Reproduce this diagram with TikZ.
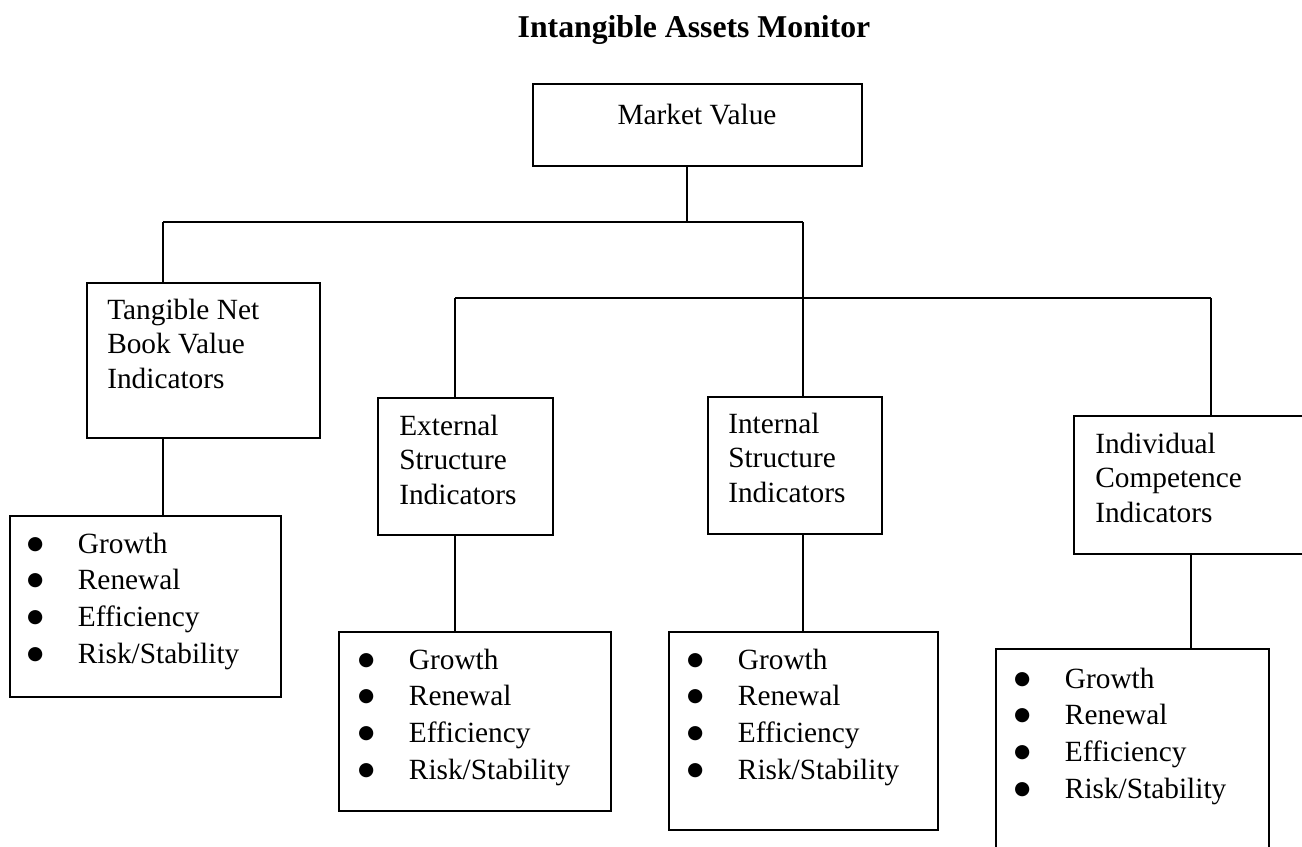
\documentclass[tikz,border=0pt]{standalone}
\usepackage{fontspec}
\setmainfont{Liberation Serif}
\newfontfamily\bulfont{DejaVu Sans}
\tikzset{
  x=0.75pt, y=-0.75pt,
  box/.style={draw, line width=1.7pt, inner sep=0pt, anchor=north west},
  conn/.style={line width=1.7pt},
  lbl/.style={inner sep=0pt, anchor=base west, font=\fontsize{22}{26.1}\selectfont},
  lst/.style={inner sep=0pt, anchor=base west, font=\fontsize{22}{27.5}\selectfont},
  ttl/.style={inner sep=0pt, anchor=base, font=\bfseries\fontsize{23.8}{28}\selectfont},
  ctr/.style={inner sep=0pt, anchor=base, font=\fontsize{22}{26.1}\selectfont},
}
\newcommand{\bul}{\makebox[0pt]{\smash{\raisebox{3pt}{\bulfont\fontsize{14}{14}\selectfont ●}}}}
\newcommand{\ivlist}{\begin{tabular}[t]{@{}p{32pt}@{}l@{}}\bul&Growth\\\bul&Renewal\\\bul&Efficiency\\\bul&Risk/Stability\end{tabular}}
\begin{document}
\begin{tikzpicture}
\useasboundingbox (0,0) rectangle (1302,846);
\clip (0,0) rectangle (1302,846);
\fill[white] (0,0) rectangle (1302,846);

% title
\node[ttl] (title) at (694,37) {Intangible Assets Monitor};

% boxes
\node[box, minimum width=246.75pt, minimum height=61.5pt] (mv) at (532,83) {};
\node[box, minimum width=174.75pt, minimum height=116.25pt] (tan) at (86,282) {};
\node[box, minimum width=203.25pt, minimum height=135.75pt] (tanL) at (9,515) {};
\node[box, minimum width=131.25pt, minimum height=102.75pt] (ext) at (377,397) {};
\node[box, minimum width=204pt, minimum height=134.25pt] (extL) at (338,631) {};
\node[box, minimum width=130.5pt, minimum height=102.75pt] (int) at (707,396) {};
\node[box, minimum width=201.75pt, minimum height=148.5pt] (intL) at (668,631) {};
\node[box, minimum width=192.75pt, minimum height=103.5pt] (ind) at (1073,415) {};
\node[box, minimum width=204.75pt, minimum height=174pt] (indL) at (995,648) {};

% texts
\node[ctr] (mvt) at (697,124) {Market Value};
\node[lbl] (tant) at (107,319) {\begin{tabular}[t]{@{}l@{}}Tangible Net\\Book Value\\Indicators\end{tabular}};
\node[lbl] (extt) at (399,435) {\begin{tabular}[t]{@{}l@{}}External\\Structure\\Indicators\end{tabular}};
\node[lbl] (intt) at (728,433) {\begin{tabular}[t]{@{}l@{}}Internal\\Structure\\Indicators\end{tabular}};
\node[lbl] (indt) at (1095,453) {\begin{tabular}[t]{@{}l@{}}Individual\\Competence\\Indicators\end{tabular}};

\node[lst] (tanl) at (35,553) {\ivlist};
\node[lst] (extl) at (366,669) {\ivlist};
\node[lst] (intl) at (695,669) {\ivlist};
\node[lst] (indl) at (1022,688) {\ivlist};

% junctions
\coordinate (j1) at (687,222);
\coordinate (j2) at (163,222);
\coordinate (j3) at (803,222);
\coordinate (j4) at (803,298);
\coordinate (j5) at (455,298);
\coordinate (j6) at (1211,298);
\coordinate (j7) at (1191,553);

% connectors
\draw[conn] (mv.south -| j1) -- (j1);
\draw[conn] (j2) -- (j3);
\draw[conn] (j2) -- (tan.north -| j2);
\draw[conn] (j3) -- (int.north -| j3);
\draw[conn] (j5) -- (j6);
\draw[conn] (j5) -- (ext.north -| j5);
\draw[conn] (j6) -- (ind.north -| j6);
\draw[conn] (tan.south -| j2) -- (tanL.north -| j2);
\draw[conn] (ext.south -| j5) -- (extL.north -| j5);
\draw[conn] (int.south -| j3) -- (intL.north -| j3);
\draw[conn] (ind.south -| j7) -- (indL.north -| j7);
\end{tikzpicture}
\end{document}
